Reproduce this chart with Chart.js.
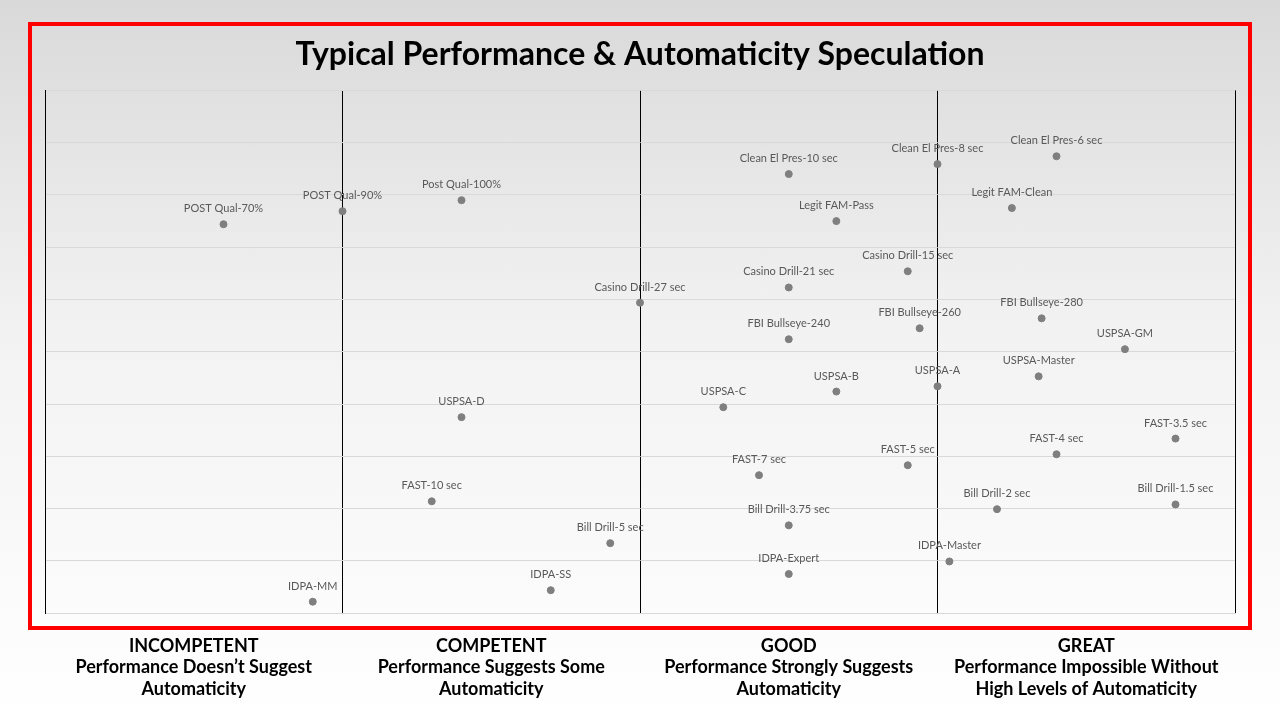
<!DOCTYPE html>
<html>
<head>
<meta charset="utf-8">
<script src="https://cdn.jsdelivr.net/npm/chart.js@4"></script>
<style>
  html, body { margin: 0; padding: 0; }
  body {
    width: 1280px;
    height: 720px;
    overflow: hidden;
    position: relative;
    background: linear-gradient(#d9d9d9 0%, #f2f2f2 45%, #ffffff 100%);
  }
  .frame {
    position: absolute;
    left: 28px;
    top: 22px;
    width: 1216px;
    height: 600px;
    border: 4px solid #ff0000;
  }
  #wrap {
    position: absolute;
    left: 0;
    top: 0;
    width: 1280px;
    height: 720px;
  }
</style>
</head>
<body>
<div class="frame"></div>
<div id="wrap"><canvas id="chart"></canvas></div>
<script>
// Typical Performance & Automaticity Speculation

const pointNames = [
    "POST Qual-70%", "POST Qual-90%", "Post Qual-100%",
    "Clean El Pres-10 sec", "Clean El Pres-8 sec", "Clean El Pres-6 sec",
    "Legit FAM-Pass", "Legit FAM-Clean",
    "Casino Drill-15 sec", "Casino Drill-21 sec", "Casino Drill-27 sec",
    "FBI Bullseye-240", "FBI Bullseye-260", "FBI Bullseye-280",
    "USPSA-GM", "USPSA-Master", "USPSA-A", "USPSA-B", "USPSA-C", "USPSA-D",
    "FAST-3.5 sec", "FAST-4 sec", "FAST-5 sec", "FAST-7 sec", "FAST-10 sec",
    "Bill Drill-1.5 sec", "Bill Drill-2 sec", "Bill Drill-3.75 sec", "Bill Drill-5 sec",
    "IDPA-Master", "IDPA-Expert", "IDPA-SS", "IDPA-MM"
];

const xValues = [
    0.6, 1.0, 1.4,
    2.5, 3.0, 3.4,
    2.66, 3.25,
    2.9, 2.5, 2.0,
    2.5, 2.94, 3.35,
    3.63, 3.34, 3.0, 2.66, 2.28, 1.4,
    3.8, 3.4, 2.9, 2.4, 1.3,
    3.8, 3.2, 2.5, 1.9,
    3.04, 2.5, 1.7, 0.9
];

const yValues = [
    7.44, 7.69, 7.90,
    8.40, 8.59, 8.74,
    7.50, 7.75,
    6.54, 6.23, 5.94,
    5.24, 5.45, 5.64,
    5.05, 4.53, 4.34, 4.24, 3.94, 3.75,
    3.34, 3.04, 2.83, 2.64, 2.14,
    2.08, 1.99, 1.68, 1.34,
    0.99, 0.75, 0.44, 0.22
];

const categoryPositions = [0.5, 1.5, 2.5, 3.5];
const categoryLabels = [
    ["INCOMPETENT", "Performance Doesn\u2019t Suggest", "Automaticity"],
    ["COMPETENT", "Performance Suggests Some", "Automaticity"],
    ["GOOD", "Performance Strongly Suggests", "Automaticity"],
    ["GREAT", "Performance Impossible Without", "High Levels of Automaticity"]
];

// draws the name above each point
const pointLabels = {
    id: "pointLabels",
    afterDatasetsDraw(chart) {
        const ctx = chart.ctx;
        const meta = chart.getDatasetMeta(0);
        ctx.save();
        ctx.font = "11px Lato";
        ctx.fillStyle = "#595959";
        ctx.textAlign = "center";
        ctx.textBaseline = "alphabetic";
        meta.data.forEach((pt, i) => {
            ctx.fillText(pointNames[i], pt.x, pt.y - 12);
        });
        ctx.restore();
    }
};

const points = xValues.map((x, i) => ({ x: x, y: yValues[i] }));

new Chart(document.getElementById("chart"), {
    type: "scatter",
    data: {
        datasets: [{
            data: points,
            backgroundColor: "#7f7f7f",
            borderColor: "#7f7f7f",
            pointRadius: 3.5,
            pointHoverRadius: 3.5
        }]
    },
    options: {
        responsive: true,
        maintainAspectRatio: false,
        animation: false,
        events: [],
        layout: {
            padding: { left: 45, right: 45, top: 30, bottom: 6 }
        },
        plugins: {
            legend: { display: false },
            tooltip: { enabled: false },
            title: {
                display: true,
                text: "Typical Performance & Automaticity Speculation",
                color: "#000000",
                font: { family: "Lato", size: 32, weight: "bold", lineHeight: 1.2 },
                padding: { top: 5, bottom: 17 }
            }
        },
        scales: {
            x: {
                type: "linear",
                min: 0,
                max: 4,
                position: "bottom",
                weight: 0,
                ticks: { display: false, stepSize: 1 },
                grid: { color: "#000000", lineWidth: 1, drawTicks: false },
                border: { display: true, color: "#d9d9d9" }
            },
            x2: {
                type: "linear",
                min: 0,
                max: 4,
                position: "bottom",
                weight: 1,
                grid: { display: false },
                border: { display: false },
                afterBuildTicks: (axis) => {
                    axis.ticks = categoryPositions.map(v => ({ value: v }));
                },
                ticks: {
                    autoSkip: false,
                    maxRotation: 0,
                    padding: 14,
                    color: "#000000",
                    font: { family: "Lato", size: 18, weight: "bold", lineHeight: 1.2 },
                    callback: (value, index) => categoryLabels[index]
                }
            },
            y: {
                type: "linear",
                min: 0,
                max: 10,
                ticks: { display: false, stepSize: 1 },
                grid: { color: "#d9d9d9", lineWidth: 1, drawTicks: false },
                border: { display: true, color: "#000000" }
            }
        }
    },
    plugins: [pointLabels]
});
</script>
</body>
</html>
